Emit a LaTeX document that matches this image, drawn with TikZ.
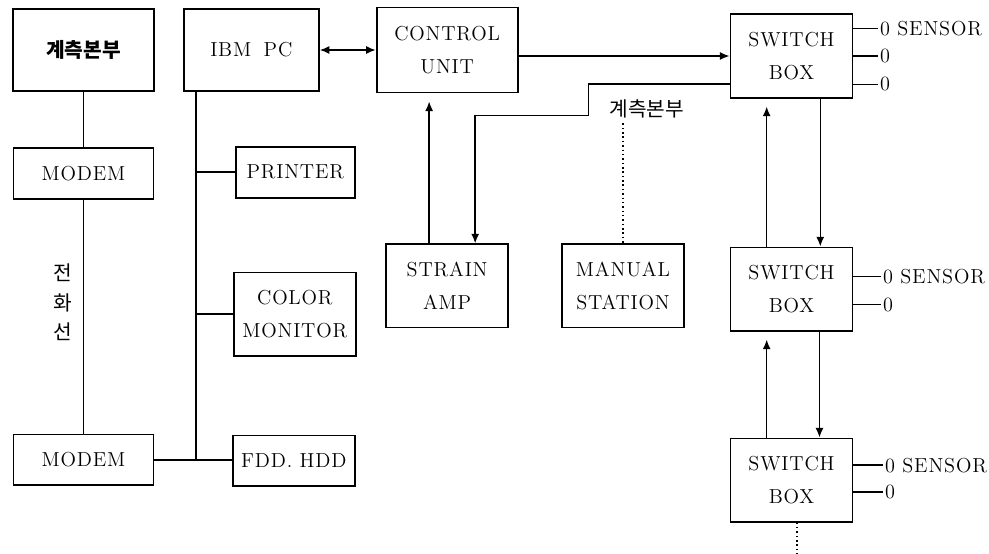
\documentclass[tikz,border=0pt]{standalone}
\usepackage{fontspec}
\setmainfont{lmroman12-regular.otf}[LetterSpace=4, BoldFont=lmroman12-bold.otf]
\usepackage{tikz}
\usetikzlibrary{arrows.meta, positioning}
\newfontfamily\kofont{Noto Sans CJK KR}

\begin{document}
\begin{tikzpicture}[
    node distance=0.5cm,
    box/.style={rectangle, draw, line width=1.3pt, align=center,
                inner sep=0pt, font=\Large},
    bigbox/.style={box, minimum width=3.5cm, minimum height=2.05cm},
    flatbox/.style={box, minimum width=3.5cm, minimum height=1.27cm},
    midbox/.style={box, minimum width=3.05cm, minimum height=2.08cm},
    sensor/.style={anchor=west, inner sep=1pt, font=\Large},
    wire/.style={line width=1.1pt},
    arrow/.style={wire, -{Latex[length=2.4mm, width=2mm]}},
    uparrow/.style={arrow, shorten >=0.2cm},
    dual/.style={wire, {Latex[length=2.4mm, width=2mm]}-{Latex[length=2.4mm, width=2mm]}}
]
\useasboundingbox (0,0) rectangle (24.725,-13.85);

% === REMOTE SIDE ===
\node[bigbox, minimum width=3.525cm] (hq) at (2.0875,-1.25) {\kofont\bfseries 계측본부};
\node[flatbox, below=1.375cm of hq] (modemA) {MODEM};
\node[flatbox, below=5.85cm of modemA] (modemB) {MODEM};
\path (modemA) -- (modemB) coordinate[midway] (tel);
\node[left=0.15cm of tel, yshift=0.35cm, align=center, font=\Large\kofont] (line) {전\\[3pt]화\\[3pt]선};

% === PC SIDE ===
\node[bigbox, minimum width=3.375cm, right=0.7cm of hq] (pc) {IBM\hspace{0.25em} PC};
\node[flatbox, minimum width=2.975cm, below right=1.35cm and 1.3cm of pc.south west] (printer) {PRINTER};
\node[midbox, below right=1.825cm and -0.05cm of printer.south west] (monitor) {COLOR\\[5pt]MONITOR};
\node[flatbox, minimum width=3.05cm, below right=1.95cm and -0.025cm of monitor.south west] (fdd) {FDD. HDD};
\coordinate (bus) at ([xshift=0.33cm]pc.south west);

% === MEASUREMENT ===
\node[bigbox, minimum width=3.525cm, minimum height=2.125cm, right=1.4cm of pc] (ctrl) {CONTROL\\[5pt]UNIT};
\node[midbox, below=3.75cm of ctrl] (amp) {STRAIN\\[5pt]AMP};
\node[midbox, right=1.3cm of amp] (manual) {MANUAL\\[5pt]STATION};
\node[above=3.0cm of manual.north, xshift=0.6cm, font=\Large\kofont] (site) {계측본부};
\coordinate[below right=0.55cm and 1.75cm of ctrl.south east] (jog);

% === SWITCH BOXES ===
\node[midbox, right=5.275cm of ctrl, yshift=-0.15cm] (sb1) {SWITCH\\[5pt]BOX};
\node[midbox, below=3.7cm of sb1] (sb2) {SWITCH\\[5pt]BOX};
\node[midbox, below=2.65cm of sb2] (sb3) {SWITCH\\[5pt]BOX};
\coordinate[below=0.85cm of sb3.south, xshift=0.14cm] (more);

\node[sensor, right=0.625cm of sb1.east, yshift=0.69cm] (s1a) {0 SENSOR};
\node[sensor, right=0.625cm of sb1.east] (s1b) {0};
\node[sensor, right=0.625cm of sb1.east, yshift=-0.71cm] (s1c) {0};
\node[sensor, right=0.7cm of sb2.east, yshift=0.31cm] (s2a) {0 SENSOR};
\node[sensor, right=0.7cm of sb2.east, yshift=-0.39cm] (s2b) {0};
\node[sensor, right=0.75cm of sb3.east, yshift=0.37cm] (s3a) {0 SENSOR};
\node[sensor, right=0.75cm of sb3.east, yshift=-0.3cm] (s3b) {0};

% === CONNECTIONS ===
\draw[wire] (hq) -- (modemA);
\draw[wire] (modemA) -- (modemB);
\draw[wire] (bus) -- (bus |- modemB.east);
\draw[wire] (modemB.east) -- (fdd.west |- modemB.east);
\draw[wire] (bus |- printer.west) -- (printer.west);
\draw[wire] (bus |- monitor.west) -- (monitor.west);
\draw[dual] (pc.east) -- (pc.east -| ctrl.west);
\draw[arrow] (ctrl.east |- sb1.west) -- (sb1.west);
\draw[arrow] ([yshift=-0.7cm]sb1.west) -| (jog) -| ([xshift=0.7cm]amp.north);
\draw[uparrow] ([xshift=-0.45cm]amp.north) -- ([xshift=-0.45cm]amp.north |- ctrl.south);
\draw[wire, dotted] (manual.north |- site.south) -- (manual.north);

\draw[arrow] ([xshift=0.72cm]sb1.south) -- ([xshift=0.72cm]sb1.south |- sb2.north);
\draw[uparrow] ([xshift=-0.62cm]sb2.north) -- ([xshift=-0.62cm]sb2.north |- sb1.south);
\draw[arrow] ([xshift=0.7cm]sb2.south) -- ([xshift=0.7cm]sb2.south |- sb3.north);
\draw[uparrow] ([xshift=-0.62cm]sb3.north) -- ([xshift=-0.62cm]sb3.north |- sb2.south);
\draw[wire, dotted] (sb3.south -| more) -- (more);

\draw[wire] (sb1.east |- s1a.west) -- (s1a.west);
\draw[wire] (sb1.east |- s1b.west) -- (s1b.west);
\draw[wire] (sb1.east |- s1c.west) -- (s1c.west);
\draw[wire] (sb2.east |- s2a.west) -- (s2a.west);
\draw[wire] (sb2.east |- s2b.west) -- (s2b.west);
\draw[wire] (sb3.east |- s3a.west) -- (s3a.west);
\draw[wire] (sb3.east |- s3b.west) -- (s3b.west);

\end{tikzpicture}
\end{document}
